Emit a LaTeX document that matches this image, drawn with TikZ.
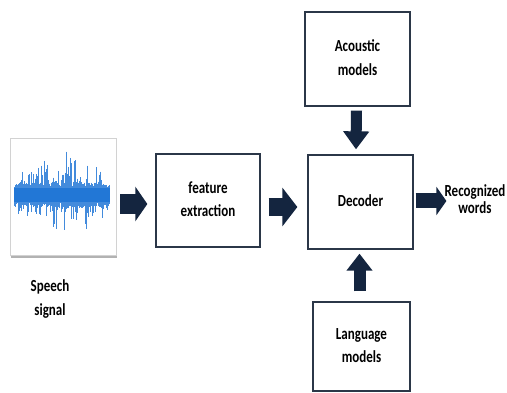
\documentclass[tikz,border=0pt]{standalone}
\usepackage{fontspec}
\setmainfont{Carlito}
\usetikzlibrary{arrows.meta,calc}
\definecolor{navy}{HTML}{14253F}
\definecolor{boxline}{HTML}{2B3748}
\definecolor{wavec}{HTML}{2277D6}
\newcommand\lbl[2][18]{\scalebox{1}[1.3]{\fontsize{13}{#1}\selectfont\bfseries\begin{tabular}{@{}c@{}}#2\end{tabular}}}
\begin{document}
\begin{tikzpicture}[x=1pt,y=-1pt,
  box/.style={draw=boxline, line width=1.3pt, fill=white, inner sep=0pt, align=center},
  imgbox/.style={draw=gray!35, line width=0.8pt, fill=white, inner sep=0pt},
  txt/.style={inner sep=0pt, align=center},
  wave/.style={wavec!85, line width=0.6pt},
  blk/.style={navy, line width=#1}]
\useasboundingbox (0,0) rectangle (507,393);
\fill[white] (0,0) rectangle (507,393);

% speech image
\node[imgbox, minimum width=106pt, minimum height=117pt] (sp) at (63,196.5) {};
\draw[gray!60, line width=2.2pt] ($(sp.south west)+(1,1.5)$) -- ($(sp.south east)+(1,1.5)$);
\pgfmathsetseed{5}
\foreach \i in {0,...,191}{
  \pgfmathsetmacro\x{14+\i*0.5}
  \pgfmathsetmacro\env{0.35+0.65*sin((\x-14)/96*180)}
  \pgfmathsetmacro\au{(8+6*rnd)*(0.6+0.4*\env)+(rnd<0.45)*rnd*rnd*34*\env}
  \pgfmathsetmacro\ad{(8+6*rnd)*(0.6+0.4*\env)+(rnd<0.45)*rnd*rnd*32*\env}
  \draw[wave] (\x,195-\au) -- (\x,195+\ad);
}
\fill[wavec] (14,188) rectangle (110,202);

\node[txt] (sl) at (50,299) {\lbl[18]{Speech\\signal}};

% boxes
\node[box, minimum width=104pt, minimum height=93pt] (fe) at (208,200.5) {\lbl{feature\\extraction}};
\node[box, minimum width=105pt, minimum height=94pt] (dec) at (360.5,202) {\raisebox{-6pt}{\lbl{Decoder}}};
\node[box, minimum width=105pt, minimum height=94pt] (ac) at (357.5,59) {\lbl{Acoustic\\models}};
\node[box, minimum width=97pt, minimum height=89pt] (la) at (361.5,346.5) {\raisebox{-3pt}{\lbl{Language\\models}}};
\node[txt] (rw) at (475,202) {\lbl[13]{Recognized\\words}};

% block arrows
\draw[blk=20pt, -{Triangle[length=12pt,width=34pt]}] ($(sp.east)+(4,7.5)$) -- ($(fe.west)+(-8,3.5)$);
\draw[blk=18pt, -{Triangle[length=15pt,width=38pt]}] ($(fe.east)+(8,6.5)$) -- ($(dec.west)+(-10,5)$);
\draw[blk=15pt, -{Triangle[length=10pt,width=28pt]}] ($(dec.east)+(2,-1)$) -- ($(rw.west)+(2,-1)$);
\draw[blk=11pt, -{Triangle[length=18pt,width=25pt]}] ($(ac.south)+(-1,4)$) -- ($(dec.north)+(-4.5,-5)$);
\draw[blk=12pt, -{Triangle[length=17pt,width=25pt]}] ($(la.north)+(-2,-10)$) -- ($(dec.south)+(-1,4)$);
\end{tikzpicture}
\end{document}
